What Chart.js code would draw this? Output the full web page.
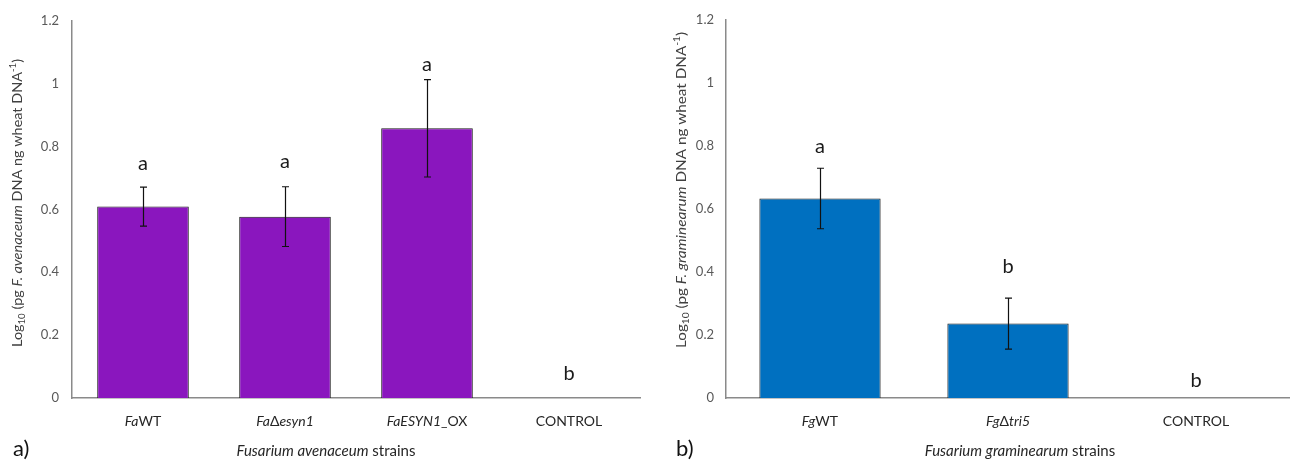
<!DOCTYPE html>
<html>
<head>
<meta charset="utf-8">
<script src="https://cdn.jsdelivr.net/npm/chart.js@4/dist/chart.umd.min.js"></script>
<style>
  body { margin: 0; background: #fff; width: 1290px; height: 461px; overflow: hidden; position: relative; }
  canvas { position: absolute; top: 0; }
</style>
</head>
<body>
<canvas id="chartA" width="650" height="461" style="left:0"></canvas>
<canvas id="chartB" width="640" height="461" style="left:650px"></canvas>
<script>
// a) Fusarium avenaceum strains  (*...* = italic)
const faStrains = ['*Fa*WT', '*Fa*Δ*esyn1*', '*FaESYN1*_OX', 'CONTROL'];
const faMeans = [0.609, 0.577, 0.858, 0];
const faErrors = [0.062, 0.095, 0.155, 0];
const faLetters = ['a', 'a', 'a', 'b'];
const faLetterPos = [0.745, 0.752, 1.062, 0.078];

// b) Fusarium graminearum strains
const fgStrains = ['*Fg*WT', '*Fg*Δ*tri5*', 'CONTROL'];
const fgMeans = [0.633, 0.236, 0];
const fgErrors = [0.096, 0.081, 0];
const fgLetters = ['a', 'b', 'b'];
const fgLetterPos = [0.797, 0.416, 0.055];

const yMax = 1.2;
const yStep = 0.2;

const FONT = 'Lato, "Open Sans", sans-serif';

// split '*Fa*WT' into [{t:'Fa', i:true}, {t:'WT'}]
function parseLabel(s) {
  return s.split('*').map((t, k) => ({ t, i: k % 2 === 1 })).filter(p => p.t);
}
const plain = s => s.replace(/\*/g, '');

// draws mixed italic / sub / sup text centred on x; optional stretch to a given length
function drawRich(ctx, segs, x, y, size, color, length) {
  const fontOf = p => `${p.i ? 'italic ' : ''}${p.sub || p.sup ? Math.round(size * 0.65) : size}px ${FONT}`;
  let total = 0;
  segs.forEach(p => { ctx.font = fontOf(p); total += ctx.measureText(p.t).width; });
  ctx.save();
  ctx.translate(x, y);
  if (length) ctx.scale(length / total, 1);
  let cx = -total / 2;
  ctx.fillStyle = color;
  ctx.textAlign = 'left';
  ctx.textBaseline = 'middle';
  segs.forEach(p => {
    ctx.font = fontOf(p);
    let dy = 0;
    if (p.sub) dy = size * 0.3;
    if (p.sup) dy = -size * 0.35;
    ctx.fillText(p.t, cx, dy);
    cx += ctx.measureText(p.t).width;
  });
  ctx.restore();
}

const extrasPlugin = {
  id: 'extras',
  afterDatasetsDraw(chart, args, opts) {
    const ctx = chart.ctx;
    const meta = chart.getDatasetMeta(0);
    const y = chart.scales.y;
    const area = chart.chartArea;
    ctx.save();
    // error bars
    ctx.strokeStyle = '#111';
    ctx.lineWidth = 1.2;
    opts.errors.forEach((e, i) => {
      if (!e) return;
      const x = Math.round(meta.data[i].x) + 0.5;
      const top = y.getPixelForValue(opts.means[i] + e);
      const bot = y.getPixelForValue(opts.means[i] - e);
      ctx.beginPath();
      ctx.moveTo(x, top); ctx.lineTo(x, bot);
      ctx.moveTo(x - 3.5, top); ctx.lineTo(x + 3.5, top);
      ctx.moveTo(x - 3.5, bot); ctx.lineTo(x + 3.5, bot);
      ctx.stroke();
    });
    // significance letters
    ctx.fillStyle = '#1a1a1a';
    ctx.font = `20px ${FONT}`;
    ctx.textAlign = 'center';
    ctx.textBaseline = 'middle';
    opts.letters.forEach((l, i) => {
      ctx.fillText(l, meta.data[i].x, y.getPixelForValue(opts.letterPos[i]));
    });
    // category labels
    opts.cats.forEach((c, i) => {
      drawRich(ctx, parseLabel(c), meta.data[i].x, area.bottom + 23, 14, '#262626');
    });
    // axis titles
    drawRich(ctx, opts.xTitle, opts.xTitleX, area.bottom + 53, 15, '#262626');
    ctx.translate(opts.yTitleX, opts.yTitleY);
    ctx.rotate(-Math.PI / 2);
    drawRich(ctx, opts.yTitle, 0, 0, 13.5, '#404040', opts.yTitleLen);
    ctx.restore();
    // panel letter
    ctx.save();
    ctx.fillStyle = '#111';
    ctx.font = `22px ${FONT}`;
    ctx.textBaseline = 'middle';
    ctx.fillText(opts.panel, opts.panelX, 449);
    ctx.restore();
  }
};

function makeChart(id, cats, means, errors, letters, letterPos, color, yWidth, padRight, tickPad, extra) {
  return new Chart(document.getElementById(id), {
    type: 'bar',
    data: {
      labels: cats.map(plain),
      datasets: [{
        data: means,
        backgroundColor: color,
        borderColor: '#1a1a1a',
        borderWidth: 1,
        barPercentage: 0.645,
        categoryPercentage: 1
      }]
    },
    options: {
      responsive: false,
      animation: false,
      layout: { padding: { left: 0, top: 18, right: padRight, bottom: 0 } },
      plugins: {
        legend: { display: false },
        tooltip: { enabled: false },
        extras: Object.assign({ cats, means, errors, letters, letterPos }, extra)
      },
      scales: {
        x: {
          grid: { display: false, drawTicks: false },
          border: { display: true, color: '#8a8a8a', width: 1.5 },
          ticks: { display: false },
          afterFit: s => { s.height = 63; }
        },
        y: {
          min: 0,
          max: yMax,
          grid: { display: false, drawTicks: false },
          border: { display: true, color: '#8a8a8a', width: 1.5 },
          ticks: {
            stepSize: yStep,
            padding: tickPad,
            color: '#595959',
            font: { family: FONT, size: 13 },
            callback: v => String(Number(v.toFixed(1)))
          },
          afterFit: s => { s.width = yWidth; }
        }
      }
    },
    plugins: [extrasPlugin]
  });
}

makeChart('chartA', faStrains, faMeans, faErrors, faLetters, faLetterPos, '#8a16be', 72, 10, 13, {
  panel: 'a)', panelX: 13,
  xTitle: [{ t: 'Fusarium avenaceum', i: true }, { t: ' strains' }], xTitleX: 326,
  yTitle: [{ t: 'Log' }, { t: '10', sub: true }, { t: ' (pg ' }, { t: 'F. avenaceum', i: true },
           { t: ' DNA ng wheat DNA' }, { t: '-1', sup: true }, { t: ')' }],
  yTitleX: 18, yTitleY: 203, yTitleLen: 288
});

makeChart('chartB', fgStrains, fgMeans, fgErrors, fgLetters, fgLetterPos, '#0070c0', 76, 0, 12, {
  panel: 'b)', panelX: 26,
  xTitle: [{ t: 'Fusarium graminearum', i: true }, { t: ' strains' }], xTitleX: 370,
  yTitle: [{ t: 'Log' }, { t: '10', sub: true }, { t: ' (pg ' }, { t: 'F. graminearum', i: true },
           { t: ' DNA ng wheat DNA' }, { t: '-1', sup: true }, { t: ')' }],
  yTitleX: 32, yTitleY: 190, yTitleLen: 316
});
</script>
</body>
</html>
